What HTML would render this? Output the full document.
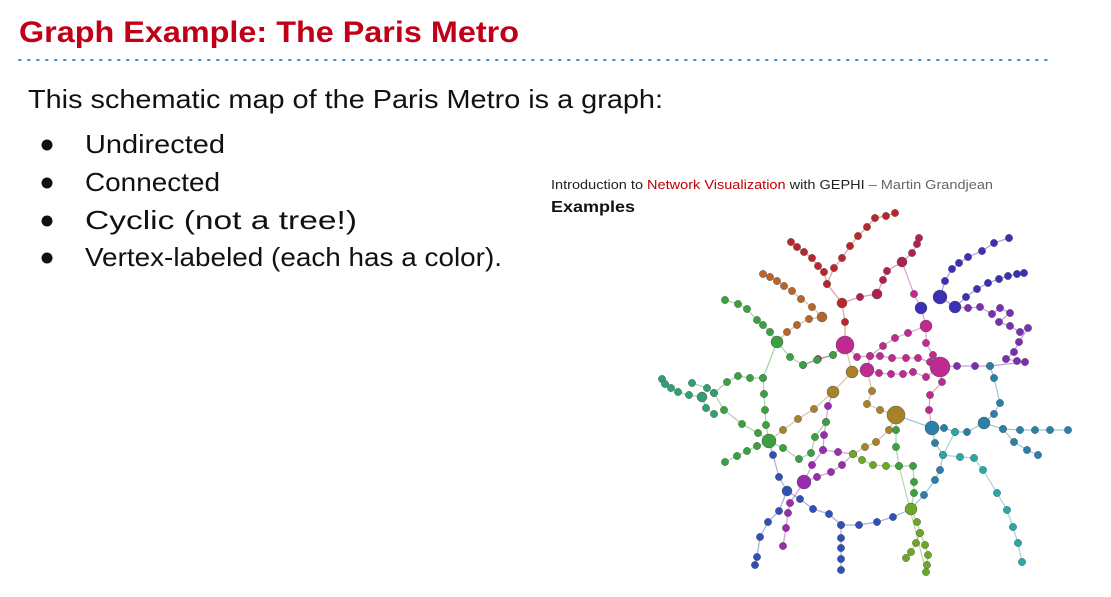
<!DOCTYPE html>
<html><head><meta charset="utf-8"><style>
html,body{margin:0;padding:0;background:#fff;}
svg{display:block;}
text{font-family:"Liberation Sans",sans-serif;}
</style></head><body>
<svg id="slide" width="1111" height="597" viewBox="0 0 1111 597" xmlns="http://www.w3.org/2000/svg">
<text x="19" y="42" font-size="30" font-weight="bold" fill="#c00018" textLength="500" lengthAdjust="spacingAndGlyphs">Graph Example: The Paris Metro</text>
<line x1="19" y1="60" x2="1052" y2="60" stroke="#3a8fd0" stroke-width="2" stroke-dasharray="1.6 7.4" stroke-linecap="round"/>
<text x="28" y="108" font-size="26" fill="#111" textLength="635" lengthAdjust="spacingAndGlyphs">This schematic map of the Paris Metro is a graph:</text>
<g font-size="26" fill="#111">
<circle cx="47" cy="145" r="5.5"/><text x="85" y="153" textLength="140" lengthAdjust="spacingAndGlyphs">Undirected</text>
<circle cx="47" cy="183" r="5.5"/><text x="85" y="191" textLength="135" lengthAdjust="spacingAndGlyphs">Connected</text>
<circle cx="47" cy="221" r="5.5"/><text x="85" y="229" textLength="272" lengthAdjust="spacingAndGlyphs">Cyclic (not a tree!)</text>
<circle cx="47" cy="258" r="5.5"/><text x="85" y="266" textLength="417" lengthAdjust="spacingAndGlyphs">Vertex-labeled (each has a color).</text>
</g>
<text x="551" y="189" font-size="13" fill="#222" textLength="442" lengthAdjust="spacingAndGlyphs">Introduction to <tspan fill="#c00000">Network Visualization</tspan> with GEPHI <tspan fill="#666">– Martin Grandjean</tspan></text>
<text x="551" y="212" font-size="16" font-weight="bold" fill="#111" textLength="84" lengthAdjust="spacingAndGlyphs">Examples</text>
<g id="graph"></g>
</svg>
<script>
const lineColors = ["#b8262e","#b8262e","#b8652a","#b02050","#3a2fb5","#7a2fb0","#c02a90","#c02a90","#c02a90","#a8822a","#a8822a","#9a2ab0","#9a2ab0","#3aa040","#3aa040","#3aa040","#30a070","#30a070","#3050b5","#3050b5","#3050b5","#6aa828","#6aa828","#2a80a8","#2a80a8","#2a80a8","#2aa8a8","#2a80a8","#c02a90","#3aa040"];
const lineStations = [
 [[895,213],[886,216],[875,218],[867,227],[858,236],[850,246],[842,258],[834,268],[827,284],[842,303],[845,322],[845,345]],
 [[791,242],[797,247],[804,252],[812,258],[818,266],[824,272],[827,284]],
 [[763,274],[770,277],[777,281],[784,286],[792,291],[801,299],[812,307],[822,317],[809,319],[797,325],[787,332],[777,342]],
 [[919,238],[917,244],[912,253],[902,262],[887,271],[883,280],[877,294],[860,297],[842,303]],
 [[1009,238],[994,243],[982,251],[968,257],[959,263],[952,269],[945,281],[940,297],[955,307],[966,297],[977,289],[988,283],[999,279],[1008,276],[1017,274],[1024,273]],
 [[955,307],[968,308],[980,307],[992,314],[1000,308],[1010,313],[999,322],[1010,326],[1020,332],[1028,328],[1019,342],[1014,352],[1006,359],[1017,361],[1025,362],[990,366],[975,366],[957,366],[940,367]],
 [[845,345],[833,355],[818,359],[803,365]],
 [[845,345],[857,357],[870,356],[880,356],[892,358],[906,358],[918,358],[930,362],[940,367],[933,355],[926,343],[926,326],[921,308],[914,294],[902,262]],
 [[926,326],[908,333],[895,338],[883,346],[870,356],[867,370],[879,373],[891,374],[903,374],[913,372],[926,377],[940,367]],
 [[845,345],[852,372],[833,392],[814,409],[798,419],[783,430],[769,441]],
 [[852,372],[867,370],[872,391],[867,404],[880,410],[896,415],[889,430],[876,442],[865,447],[853,454]],
 [[833,392],[828,406],[826,422],[824,435],[823,450],[838,452],[853,454],[842,465],[831,472],[817,477],[804,482]],
 [[823,450],[812,465],[804,482],[790,503],[788,513],[786,528],[783,546]],
 [[725,300],[738,304],[747,309],[757,320],[763,325],[770,332],[777,342],[790,357],[803,365],[817,360],[833,355]],
 [[777,342],[763,378],[764,394],[765,410],[766,425],[769,441],[783,448],[799,459],[811,453],[815,437],[826,422]],
 [[763,378],[750,378],[738,376],[727,382],[714,393],[724,410],[742,424],[758,433],[769,441],[757,446],[747,451],[737,456],[725,462]],
 [[662,379],[665,384],[671,388],[678,392],[689,395],[702,397],[706,408],[714,414]],
 [[692,383],[707,388],[714,393]],
 [[769,441],[773,455],[779,477],[787,491],[779,511],[768,522],[760,537],[757,557],[755,565]],
 [[787,491],[800,499],[813,509],[829,514],[841,525],[859,525],[877,522],[893,517],[911,509]],
 [[841,525],[841,538],[841,548],[841,559],[841,570]],
 [[911,509],[917,522],[920,533],[916,543],[911,552],[906,558]],
 [[920,533],[925,545],[928,555],[927,565],[926,572],[899,466],[886,466],[873,465],[862,460],[853,454]],
 [[896,415],[932,428],[935,443],[943,455],[940,470],[935,480],[924,495],[911,509]],
 [[932,428],[944,428],[955,432],[967,432],[984,423],[1003,429],[1020,430],[1035,430],[1050,430],[1068,430]],
 [[984,423],[994,414],[1000,403],[994,378],[990,366]],
 [[955,432],[943,455],[960,457],[974,458],[983,470],[997,493],[1007,510],[1013,527],[1018,543],[1022,562]],
 [[1003,429],[1014,442],[1027,450],[1038,455]],
 [[932,428],[929,410],[930,395],[942,382],[940,367]],
 [[911,509],[914,493],[914,482],[913,466],[899,466],[896,447],[896,430],[896,415]]
];
const hubStations = [[845,345,9],[940,367,10],[896,415,9],[852,372,6],[833,392,6],[777,342,6],[769,441,7],[804,482,7],[911,509,6],[932,428,7],[940,297,7],[955,307,6],[921,308,6],[926,326,6],[867,370,7],[702,397,5],[984,423,6],[842,303,5],[822,317,5],[877,294,5],[902,262,5],[787,491,5]];
const hubColors = ["#c02a90","#c02a90","#a8822a","#a8822a","#a8822a","#3aa040","#3aa040","#9a2ab0","#6aa828","#2a80a8","#3a2fb5","#3a2fb5","#3a2fb5","#c02a90","#c02a90","#30a070","#2a80a8","#b8262e","#b8652a","#b02050","#b02050","#3050b5"];
const NS="http://www.w3.org/2000/svg";
const g=document.getElementById('graph');
const edges=document.createElementNS(NS,'g');
g.appendChild(edges);
const nodes=document.createElementNS(NS,'g');
g.appendChild(nodes);
lineStations.forEach((pts,i)=>{
  const pl=document.createElementNS(NS,'polyline');
  
  
  pl.setAttribute('points',pts.map(p=>p[0]+','+p[1]).join(' '));
  pl.setAttribute('fill','none');
  pl.setAttribute('stroke',lineColors[i]);
  pl.setAttribute('stroke-opacity','0.45');
  pl.setAttribute('stroke-width','1.2');
  edges.appendChild(pl);
  pts.forEach(p=>{
    const c=document.createElementNS(NS,'circle');
    
    
    c.setAttribute('cx',p[0]);c.setAttribute('cy',p[1]);c.setAttribute('r',3.7);
    c.setAttribute('fill',lineColors[i]);
    c.setAttribute('stroke','#555');c.setAttribute('stroke-width','0.4');
    nodes.appendChild(c);
  });
});
hubStations.forEach((h,i)=>{
  const c=document.createElementNS(NS,'circle');
  
  
  c.setAttribute('cx',h[0]);c.setAttribute('cy',h[1]);c.setAttribute('r',h[2]);
  c.setAttribute('fill',hubColors[i]);
  c.setAttribute('stroke','#555');c.setAttribute('stroke-width','0.5');
  nodes.appendChild(c);
});
</script>
</body></html>
